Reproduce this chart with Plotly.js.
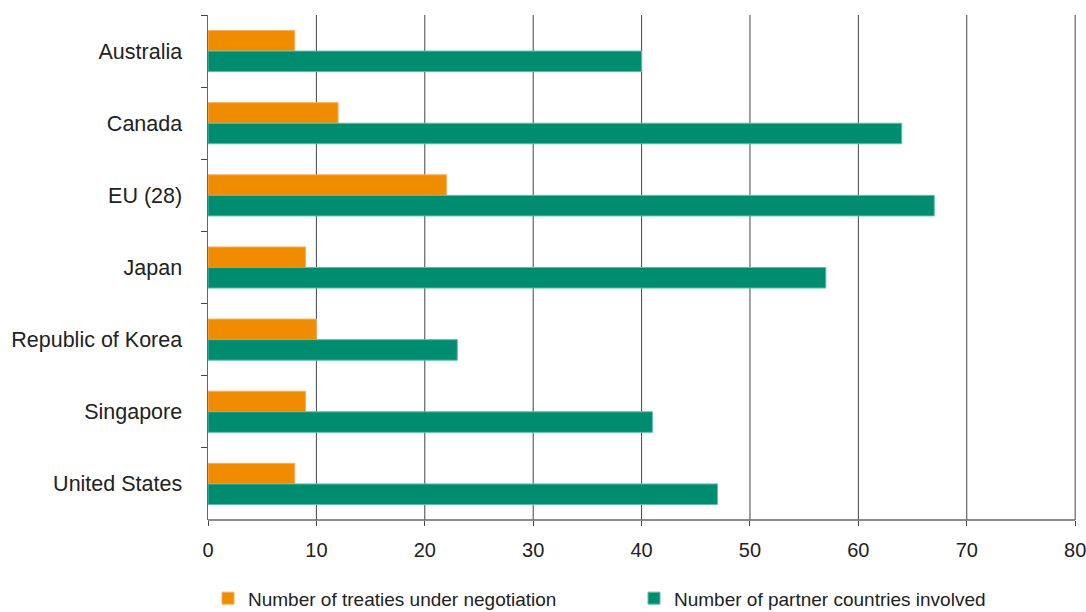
<!DOCTYPE html>
<html>
<head>
<meta charset="utf-8">
<script src="https://cdn.plot.ly/plotly-3.0.1.min.js"></script>
<style>html,body{margin:0;padding:0;background:#fff;}#chart{width:1086px;height:612px;}</style>
</head>
<body>
<div id="chart"></div>
<script>
const categories = ["Australia", "Canada", "EU (28)", "Japan", "Republic of Korea", "Singapore", "United States"];
const treaties = [8, 12, 22, 9, 10, 9, 8];
const partners = [40, 64, 67, 57, 23, 41, 47];
const seriesNames = ["Number of treaties under negotiation", "Number of partner countries involved"];
const xTicks = [0, 10, 20, 30, 40, 50, 60, 70, 80];

const traces = [
  {type: 'bar', orientation: 'h', name: seriesNames[0], y: categories, x: treaties,
   marker: {color: '#F08C00', line: {color: '#F5B060', width: 1}}},
  {type: 'bar', orientation: 'h', name: seriesNames[1], y: categories, x: partners,
   marker: {color: '#008C6E', line: {color: '#5FBFA8', width: 1}}}
];

// vertical gridlines drawn below the bars, one per x tick (except 0, covered by the axis line)
const gridShapes = xTicks.filter(v => v > 0).map(v => ({
  type: 'line', layer: 'below', xref: 'x', yref: 'paper', x0: v, x1: v, y0: 0, y1: 1,
  line: {color: '#444', width: 1}
}));
const axisShape = {type: 'line', xref: 'x', yref: 'paper', x0: 0, x1: xTicks[xTicks.length - 1],
  y0: 0, y1: 0, line: {color: '#666', width: 1.5}};

const layout = {
  width: 1086, height: 612,
  margin: {l: 208, r: 0, t: 15, b: 92, pad: 0, autoexpand: false},
  paper_bgcolor: '#fff', plot_bgcolor: '#fff',
  font: {family: 'Liberation Sans, Arial, sans-serif', size: 20, color: '#222'},
  barmode: 'group', bargap: 0.43, bargroupgap: 0,
  showlegend: true,
  legend: {orientation: 'h', x: 0, xanchor: 'left', y: -0.155, yanchor: 'middle',
           font: {size: 19, color: '#222'}, itemwidth: 30, entrywidth: 381, entrywidthmode: 'pixels',
           traceorder: 'normal', bgcolor: 'rgba(0,0,0,0)'},
  xaxis: {range: [0, 81], tickvals: xTicks, ticktext: xTicks.map(String),
          showgrid: false, zeroline: false, showline: false,
          ticks: 'outside', ticklen: 5, tickcolor: '#444', ticklabeloverflow: 'allow',
          ticklabelstandoff: 7, tickfont: {size: 20}, fixedrange: true},
  yaxis: {type: 'category', autorange: 'reversed', tickson: 'boundaries',
          showgrid: false, zeroline: false, showline: true, linecolor: '#666', linewidth: 1.5,
          ticks: 'outside', ticklen: 6, tickcolor: '#444',
          ticklabelstandoff: 20, tickfont: {size: 21.5}, fixedrange: true},
  shapes: gridShapes.concat([axisShape])
};

Plotly.newPlot('chart', traces, layout, {displayModeBar: false, staticPlot: true});
</script>
</body>
</html>
